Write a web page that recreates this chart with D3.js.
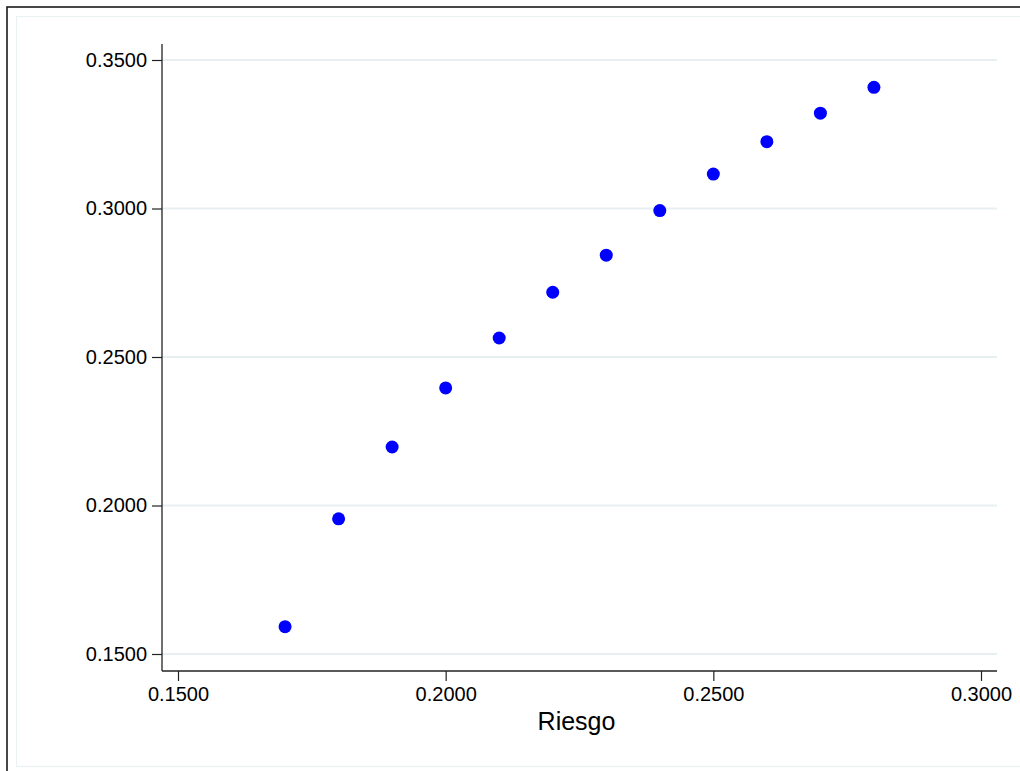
<!DOCTYPE html>
<html>
<head>
<meta charset="utf-8">
<script src="https://cdn.jsdelivr.net/npm/d3@7"></script>
<style>
  body { margin: 0; background: #fff; }
  svg { display: block; }
</style>
</head>
<body>
<div class="chart"></div>
<script>
// Data
const riesgo = [0.17, 0.18, 0.19, 0.20, 0.21, 0.22, 0.23, 0.24, 0.25, 0.26, 0.27, 0.28];
const retorno = [0.1592, 0.1955, 0.2197, 0.2396, 0.2564, 0.2718, 0.2843, 0.2993, 0.3116, 0.3225, 0.3321, 0.3408];
const xTicks = [0.15, 0.20, 0.25, 0.30];
const yTicks = [0.15, 0.20, 0.25, 0.30, 0.35];

const width = 1020
const height = 771
const plot = { left: 162, right: 997, top: 44, bottom: 671 };

const svg = d3.select(".chart")
  .append("svg")
  .attr("width", width)
  .attr("height", height);

// outer graph frame (cropped at right/bottom) and inner light frame
svg.append("rect")
  .attr("x", 7).attr("y", 7)
  .attr("width", 1100).attr("height", 900)
  .attr("fill", "white")
  .attr("stroke", "#1a1a1a")
  .attr("stroke-width", 1.6);

svg.append("rect")
  .attr("x", 16.5).attr("y", 16.5)
  .attr("width", 1100).attr("height", 750)
  .attr("fill", "none")
  .attr("stroke", "#eaf1f3")
  .attr("stroke-width", 1.2);

const x = d3.scaleLinear().domain([0.15, 0.30]).range([178, 981]);
const y = d3.scaleLinear().domain([0.15, 0.35]).range([654, 60]);

// gridlines
svg.append("g")
  .selectAll("line")
  .data(yTicks)
  .join("line")
  .attr("x1", plot.left)
  .attr("x2", plot.right)
  .attr("y1", d => y(d))
  .attr("y2", d => y(d))
  .attr("stroke", "#e8eff1")
  .attr("stroke-width", 2);

const font = "Arial, 'Liberation Sans', Helvetica, sans-serif";

// y axis
const yAxis = svg.append("g")
  .attr("transform", `translate(${plot.left},0)`)
  .call(d3.axisLeft(y).tickValues(yTicks).tickFormat(d3.format(".4f")).tickSize(10).tickPadding(5));
yAxis.select(".domain").remove();
yAxis.selectAll(".tick line").attr("stroke", "#222").attr("stroke-width", 1.2);
yAxis.selectAll(".tick text")
  .attr("fill", "#000")
  .style("font-family", font)
  .style("font-size", "20px");
yAxis.append("line")
  .attr("y1", plot.top).attr("y2", plot.bottom)
  .attr("stroke", "#222").attr("stroke-width", 1.3);

// x axis
const xAxis = svg.append("g")
  .attr("transform", `translate(0,${plot.bottom})`)
  .call(d3.axisBottom(x).tickValues(xTicks).tickFormat(d3.format(".4f")).tickSize(10).tickPadding(6));
xAxis.select(".domain").remove();
xAxis.selectAll(".tick line").attr("stroke", "#222").attr("stroke-width", 1.2);
xAxis.selectAll(".tick text")
  .attr("fill", "#000")
  .style("font-family", font)
  .style("font-size", "20px");
xAxis.append("line")
  .attr("x1", plot.left).attr("x2", plot.right)
  .attr("stroke", "#222").attr("stroke-width", 1.3);

// x title
svg.append("text")
  .attr("x", (plot.left + plot.right) / 2 - 3)
  .attr("y", 730)
  .attr("text-anchor", "middle")
  .style("font-family", font)
  .style("font-size", "25px")
  .text("Riesgo");

// points
svg.append("g")
  .selectAll("circle")
  .data(riesgo)
  .join("circle")
  .attr("cx", d => x(d))
  .attr("cy", (d, i) => y(retorno[i]))
  .attr("r", 6.5)
  .attr("fill", "#0000ff");
</script>
</body>
</html>
